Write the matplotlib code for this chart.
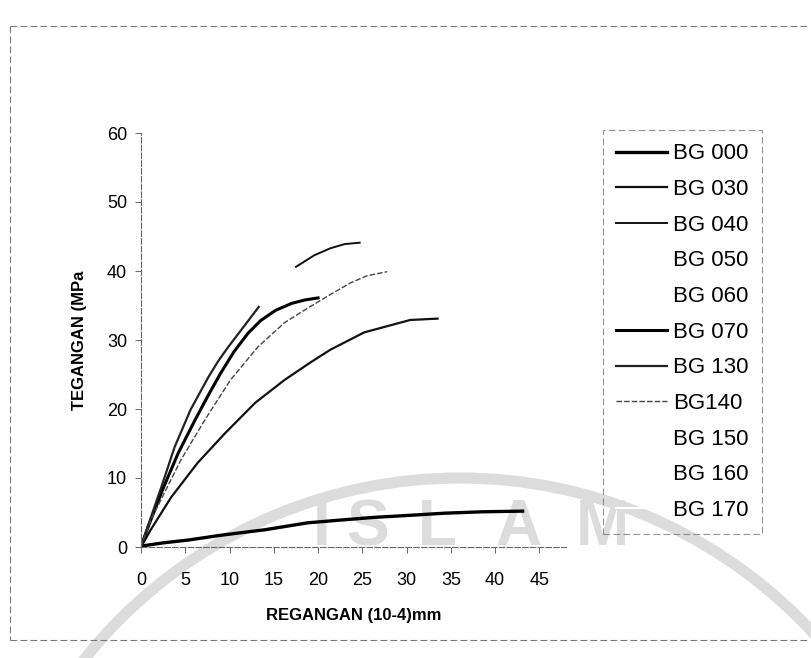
import matplotlib.pyplot as plt
from matplotlib.lines import Line2D
from matplotlib.patches import Arc

plt.rcParams['font.family'] = ['Liberation Sans', 'DejaVu Sans']

# nilai: regangan (10-4) dan tegangan (MPa)
bg000_x = [0, 0.4, 2.5, 5.3, 9.0, 14.0, 18.8, 22.5, 26.4, 30.5, 34.3, 38.5, 43.1]
bg000_y = [0, 0.2, 0.6, 1.0, 1.7, 2.5, 3.5, 3.9, 4.3, 4.6, 4.9, 5.1, 5.2]

bg030_x = [0, 1.1, 3.4, 6.4, 9.5, 12.9, 16.2, 19.2, 21.4, 25.2, 30.4, 33.5]
bg030_y = [0, 2.5, 7.2, 12.2, 16.5, 20.9, 24.2, 26.8, 28.6, 31.1, 32.9, 33.1]

bg040_x = [17.5, 19.6, 21.4, 23.0, 24.7]
bg040_y = [40.6, 42.3, 43.3, 43.9, 44.1]

bg070_x = [0, 0.8, 2.5, 4.2, 6.1, 7.6, 9.0, 10.5, 12.1, 13.5, 15.2, 17.0, 18.5, 20.0]
bg070_y = [0, 2.9, 8.5, 13.6, 18.4, 22.0, 25.2, 28.3, 31.0, 32.8, 34.3, 35.3, 35.8, 36.1]

bg130_x = [0, 0.5, 2.3, 3.8, 5.6, 7.6, 8.7, 9.8, 11.7, 13.3]
bg130_y = [0, 2.0, 8.7, 14.5, 19.9, 24.6, 26.9, 28.9, 32.1, 34.8]

bg140_x = [0, 1.1, 4.5, 7.2, 10.1, 13.2, 16.2, 18.8, 21.4, 23.7, 25.5, 27.8]
bg140_y = [0, 3.9, 12.6, 18.4, 24.2, 29.0, 32.5, 34.6, 36.6, 38.3, 39.3, 39.9]

labels = ['BG 000', 'BG 030', 'BG 040', 'BG 050', 'BG 060', 'BG 070',
          'BG 130', 'BG140', 'BG 150', 'BG 160', 'BG 170']

W, H = 812, 658
fig = plt.figure(figsize=(W / 100, H / 100), dpi=100)

# watermark hasil scan (abu-abu muda, di belakang grafik)
wm = '#dcdcdc'
for ch, cx in zip('ISLAM', [322, 368, 437, 518, 602]):
    fig.text(cx / W, 1 - 528 / H, ch, color=wm, fontsize=46, fontweight='bold',
             ha='center', va='center', zorder=-5)
ring = Arc((460 / W, 1 - 958 / H), 960 / W, 960 / H, theta1=0, theta2=180,
           transform=fig.transFigure, color=wm, lw=8, zorder=-5)
fig.add_artist(ring)

# bingkai luar
frame = dict(color='#777777', lw=0.8, ls=(0, (6, 3)), transform=fig.transFigure)
fig.add_artist(Line2D([10 / W, 810 / W], [1 - 26 / H, 1 - 26 / H], **frame))
fig.add_artist(Line2D([10 / W, 10 / W], [1 - 26 / H, 1 - 640 / H], **frame))
fig.add_artist(Line2D([10 / W, 810 / W], [1 - 640 / H, 1 - 640 / H], **frame))

ax = fig.add_axes([141 / W, 1 - 547 / H, (566 - 141) / W, (547 - 133) / H])
ax.patch.set_alpha(0)

ax.plot(bg000_x, bg000_y, color='black', lw=2.4, label=labels[0])
ax.plot(bg030_x, bg030_y, color='#111111', lw=1.6, label=labels[1])
ax.plot(bg040_x, bg040_y, color='#111111', lw=1.4, label=labels[2])
ax.plot([], [], color='white', label=labels[3])
ax.plot([], [], color='white', label=labels[4])
ax.plot(bg070_x, bg070_y, color='black', lw=2.2, label=labels[5])
ax.plot(bg130_x, bg130_y, color='#222222', lw=1.6, label=labels[6])
ax.plot(bg140_x, bg140_y, color='#444444', lw=1.0, ls=(0, (4, 1.5)), label=labels[7])
ax.plot([], [], color='white', label=labels[8])
ax.plot([], [], color='white', label=labels[9])
ax.plot([], [], color='white', label=labels[10])

ax.set_xlim(0, 48)
ax.set_ylim(0, 60)
ax.set_xticks(range(0, 50, 5))
ax.set_yticks(range(0, 70, 10))
ax.tick_params(axis='both', labelsize=13, length=4, width=0.7, color='#666666')
ax.tick_params(axis='x', pad=14)
ax.tick_params(axis='y', pad=6)

for side in ['top', 'right']:
    ax.spines[side].set_visible(False)
for side in ['left', 'bottom']:
    ax.spines[side].set_color('#666666')
    ax.spines[side].set_linewidth(0.8)
    ax.spines[side].set_linestyle((0, (5, 2)))

ax.set_xlabel('REGANGAN (10-4)mm', fontsize=12, fontweight='bold', labelpad=14)
ax.set_ylabel('TEGANGAN (MPa', fontsize=12, fontweight='bold', labelpad=14)

leg = ax.legend(loc='upper left', bbox_to_anchor=(603 / W, 1 - 130 / H),
                bbox_transform=fig.transFigure, borderaxespad=0, fontsize=16,
                frameon=True, fancybox=False, facecolor='none', edgecolor='#777777',
                handlelength=2.3, handletextpad=0.25, labelspacing=0.66,
                borderpad=0.6)
leg.get_frame().set_linewidth(0.8)
leg.get_frame().set_linestyle((0, (6, 3)))

fig.savefig('out.png', dpi=100)
